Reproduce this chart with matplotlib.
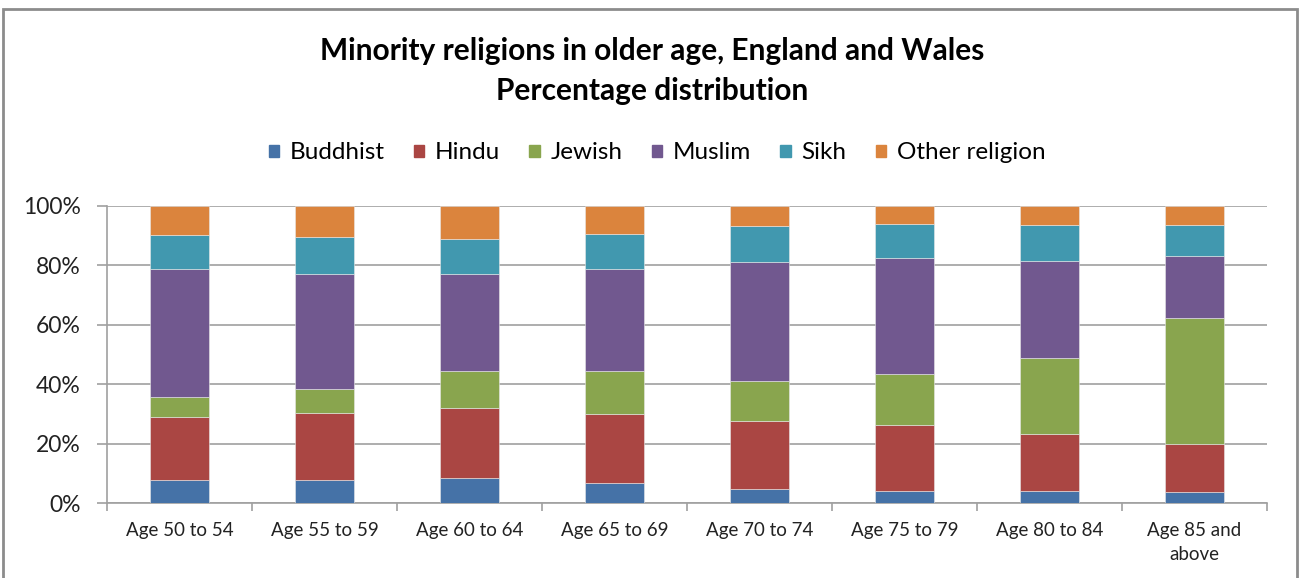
import numpy as np
import matplotlib.pyplot as plt
import matplotlib.patches as mpatches

# Percentage distribution of minority religions by age band
age_groups = ["Age 50 to 54", "Age 55 to 59", "Age 60 to 64", "Age 65 to 69",
              "Age 70 to 74", "Age 75 to 79", "Age 80 to 84", "Age 85 and\nabove"]
buddhist = [7.7, 7.7, 8.5, 6.9, 4.8, 3.9, 3.9, 3.6]
hindu = [21.2, 22.5, 23.4, 22.9, 22.9, 22.4, 19.5, 16.3]
jewish = [6.9, 8.2, 12.6, 14.7, 13.3, 17.3, 25.3, 42.3]
muslim = [43.1, 38.8, 32.7, 34.4, 40.1, 38.8, 32.8, 21.0]
sikh = [11.2, 12.5, 11.7, 11.7, 12.1, 11.6, 12.1, 10.4]
other = [9.9, 10.3, 11.1, 9.4, 6.8, 6.0, 6.4, 6.4]

series = {
    "Buddhist": (buddhist, "#4572A7"),
    "Hindu": (hindu, "#AA4643"),
    "Jewish": (jewish, "#89A54E"),
    "Muslim": (muslim, "#71588F"),
    "Sikh": (sikh, "#4198AF"),
    "Other religion": (other, "#DB843D"),
}

plt.rcParams['font.family'] = ['Lato', 'DejaVu Sans']

fig = plt.figure(figsize=(13.01, 5.78), dpi=100)
W, H = 1301, 578
ax = fig.add_axes([107 / W, 1 - 503 / H, (1267 - 107) / W, (503 - 206) / H])

x = np.arange(len(age_groups))
bottom = np.zeros(len(age_groups))
for name, (vals, color) in series.items():
    vals = np.array(vals)
    ax.bar(x, vals, width=0.405, bottom=bottom, color=color, label=name,
           edgecolor="#e8e8e8", linewidth=0.4, zorder=3)
    bottom += vals

grid_col = "#a0a0a0"
ax.set_xlim(-0.5, len(age_groups) - 0.5)
ax.set_ylim(0, 100)
ax.set_yticks(np.arange(0, 101, 20))
ax.set_yticklabels([f"{v}%" for v in range(0, 101, 20)], fontsize=16.5, color="#222222")
ax.yaxis.grid(True, color=grid_col, linewidth=1.2, zorder=0)
ax.set_axisbelow(True)

# category labels centred, tick marks on category boundaries
ax.set_xticks(x)
ax.set_xticklabels(age_groups, fontsize=13.5, linespacing=1.45, color="#222222")
ax.tick_params(axis="x", length=0, pad=14)
ax.set_xticks(np.arange(-0.5, len(age_groups)), minor=True)
ax.tick_params(axis="x", which="minor", length=6, color=grid_col, width=1.2)
ax.tick_params(axis="y", length=7, color=grid_col, width=1.2, pad=12)

for side in ["top", "right"]:
    ax.spines[side].set_visible(False)
for side in ["left", "bottom"]:
    ax.spines[side].set_color(grid_col)
    ax.spines[side].set_linewidth(1.2)

fig.text(652 / W, 1 - 71 / H, "Minority religions in older age, England and Wales\nPercentage distribution",
         ha="center", va="center", fontsize=21.5, fontweight="bold", linespacing=1.55)

handles = [mpatches.Patch(color=c, label=n) for n, (v, c) in series.items()]
fig.legend(handles=handles, loc="center", bbox_to_anchor=(657 / W, 1 - 153 / H), ncol=6,
           frameon=False, fontsize=17.5, handlelength=0.42, handleheight=0.42,
           handletextpad=0.45, columnspacing=1.2)

# outer chart frame
fig.patches.append(mpatches.Rectangle((3 / W, -0.05), (1297 - 3) / W, 1.05 - 9 / H,
                                      transform=fig.transFigure, fill=False,
                                      edgecolor="#8c8c8c", linewidth=2))

fig.savefig("out.png", dpi=100)
